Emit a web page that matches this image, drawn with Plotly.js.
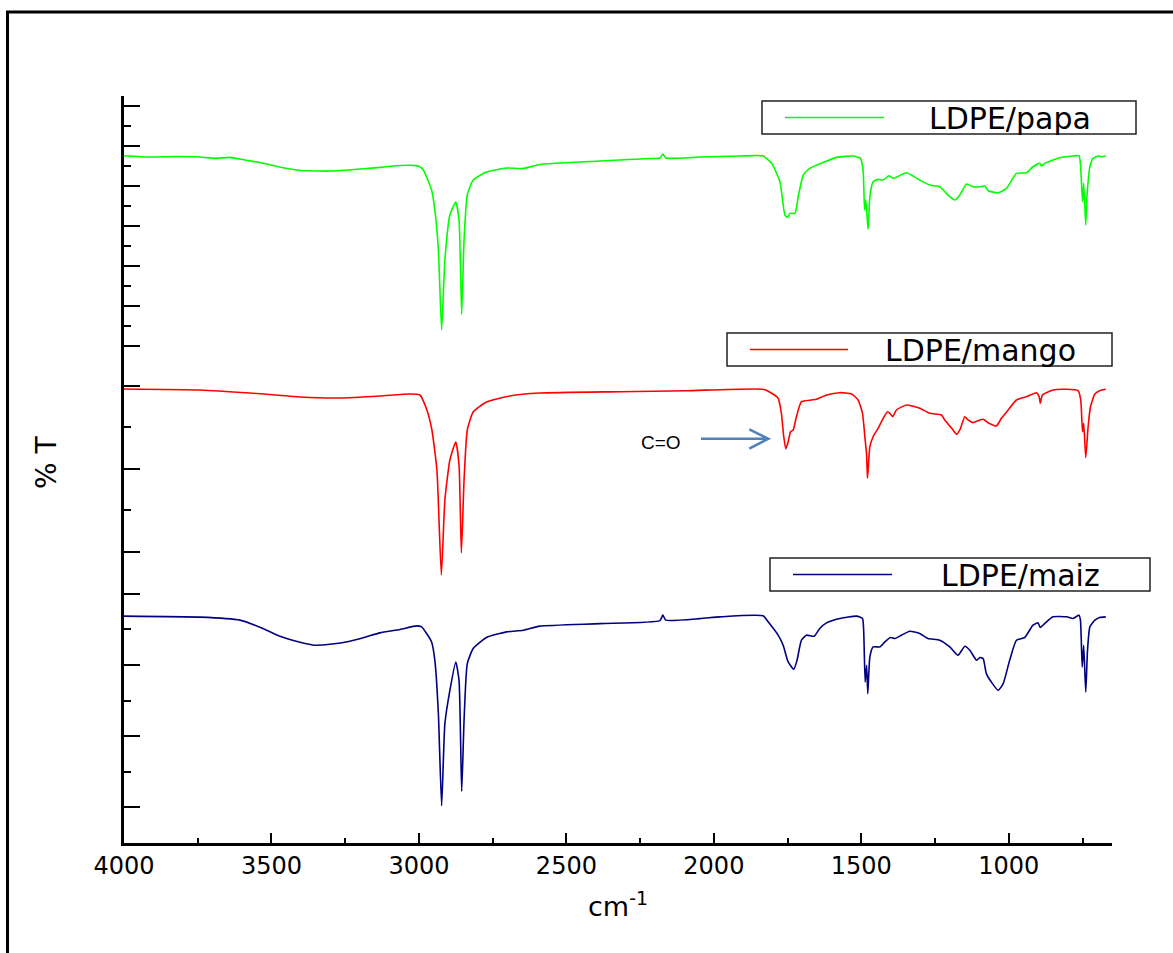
<!DOCTYPE html>
<html>
<head>
<meta charset="utf-8">
<script src="https://cdn.plot.ly/plotly-3.0.1.min.js"></script>
<style>body{margin:0;background:#fff}</style>
</head>
<body>
<div id="chart" style="width:1173px;height:953px"></div>
<script>
// ---------- data ----------
const seriesNames = ['LDPE/papa', 'LDPE/mango', 'LDPE/maiz'];
const seriesColors = ['#00ff00', '#ff0000', '#000080'];

const papaWn = [4000,3912,3827,3742,3692,3641,3590,3539,3488,3437,3403,3292,3176,3064,3020,2997,2985,2957,2946,2934,2923,2912,2895,2875,2864,2855,2847,2836,2816,2771,2703,2647,2590,2386,2217,2183,2173,2163,2047,1912,1833,1804,1776,1759,1750,1742,1725,1714,1697,1675,1629,1584,1528,1503,1494,1489,1485,1482,1477,1471,1460,1443,1426,1406,1392,1347,1302,1268,1234,1206,1183,1166,1143,1121,1098,1081,1070,1036,1008,974,940,918,895,889,878,850,827,782,762,757,750,746,739,735,725,714,697,686,671];
const papaT = [87.5,87.18,87.3,87.18,86.85,87.1,86.43,85.8,84.93,84.18,83.8,83.68,84.3,85.05,85.1,84.75,83.93,78.93,73.93,63.93,43.93,61.43,72.68,75.93,71.43,47.93,66.43,77.68,81.43,83.43,84.43,84.3,85.3,86.18,86.8,86.93,87.93,86.93,87.18,87.43,87.43,85.6,81.0,72.68,72.1,73.1,73.1,77.25,82.68,84.35,85.85,87.1,87.43,86.85,83.93,73.93,76.43,73.93,69.1,77.25,81.0,81.6,81.43,82.5,81.85,83.25,81.43,80.18,79.75,77.68,76.43,77.68,80.43,79.75,79.75,79.93,78.75,78.25,79.35,83.1,83.25,84.75,85.6,84.93,85.6,86.43,87.0,87.43,87.5,85.6,76.0,80.6,70.18,77.25,84.75,86.85,87.43,87.25,87.43];

const mangoWn = [4000,3742,3573,3403,3268,3132,3030,2997,2973,2956,2939,2924,2912,2895,2875,2864,2856,2847,2836,2816,2771,2692,2590,2319,2093,1833,1804,1782,1771,1763,1756,1748,1740,1731,1720,1703,1669,1652,1618,1573,1533,1511,1496,1488,1482,1479,1471,1460,1443,1426,1411,1403,1394,1381,1347,1302,1268,1228,1217,1189,1177,1166,1149,1138,1121,1104,1087,1070,1042,1025,1002,974,940,906,897,893,886,850,804,765,756,750,746,739,731,723,708,692,671];
const mangoT = [79.28,79.04,78.31,77.35,77.11,77.59,78.07,77.83,74.22,69.40,59.76,34.46,52.53,62.17,66.51,60.96,39.76,57.35,69.40,73.73,76.14,77.59,78.31,78.63,78.87,79.20,78.24,77.04,73.42,67.78,64.82,66.58,68.99,69.40,72.60,76.22,76.63,76.80,77.83,78.39,78.07,76.63,73.42,67.78,63.37,57.76,65.37,67.78,69.81,72.22,73.81,73.42,72.60,74.22,75.42,74.63,73.42,73.01,71.81,69.40,68.36,69.40,72.60,71.81,71.16,71.64,71.98,71.16,70.36,72.22,74.22,76.63,77.42,78.39,77.42,75.83,77.83,79.04,79.20,78.87,76.63,68.99,71.01,62.72,70.19,75.01,78.07,78.87,79.20];

const maizWn = [4000,3742,3607,3539,3471,3403,3353,3302,3234,3183,3132,3064,3008,2991,2974,2957,2946,2934,2923,2912,2895,2875,2864,2855,2847,2836,2816,2771,2703,2646,2590,2386,2183,2173,2163,2047,1980,1833,1816,1782,1765,1748,1729,1718,1703,1686,1660,1641,1618,1573,1516,1496,1492,1487,1482,1478,1471,1460,1437,1420,1401,1386,1364,1336,1302,1274,1234,1200,1172,1149,1132,1109,1098,1087,1076,1059,1036,1019,997,974,946,918,901,893,878,850,804,782,762,757,751,746,739,733,725,708,692,671];
const maizT = [73.72,73.44,72.59,70.62,68.08,66.39,65.55,65.83,66.68,67.80,69.01,69.97,70.99,70.70,68.85,66.48,61.32,46.31,20.48,43.49,52.87,60.85,55.69,24.51,44.42,60.39,64.62,67.72,69.30,69.77,70.90,71.61,72.45,74.00,72.59,73.01,73.52,73.80,72.11,68.37,65.55,60.85,58.79,61.32,66.96,68.37,68.08,70.25,71.83,73.07,73.72,73.07,69.77,55.21,59.92,51.94,62.25,65.07,65.07,66.48,67.72,67.44,68.37,69.49,68.85,67.44,66.96,65.07,62.73,65.27,64.14,61.32,62.08,61.80,57.58,55.21,52.87,54.76,61.32,66.96,67.72,71.18,71.83,70.54,71.66,73.52,73.52,73.07,74.00,72.59,59.44,65.55,52.39,64.14,70.70,72.59,73.35,73.52];

const xTickVals = [4000, 3500, 3000, 2500, 2000, 1500, 1000];
const annotationText = 'C=O';
const yTitle = '% T';
const xTitle = 'cm<sup>-1</sup>';

// ---------- layout helpers (pixel -> paper) ----------
const ML = 124, MR = 61, MT = 96, MB = 110, FW = 1173, FH = 953;
const PW = FW - ML - MR, PH = FH - MT - MB;
const PX = x => (x - ML) / PW;
const PY = y => (FH - MB - y) / PH;

const xs = [papaWn, mangoWn, maizWn];
const ys = [papaT, mangoT, maizT];
const yaxisIds = ['y', 'y2', 'y3'];

const traces = seriesNames.map((name, i) => ({
  type: 'scatter', mode: 'lines', name: name,
  x: xs[i], y: ys[i], xaxis: 'x', yaxis: yaxisIds[i],
  line: {color: seriesColors[i], width: 1.6, shape: 'spline', smoothing: 0.5},
  showlegend: false, hoverinfo: 'x+y+name'
}));

const yBase = {
  showline: true, linecolor: 'black', linewidth: 3,
  ticks: 'inside', ticklen: 16, tickwidth: 2, tickcolor: 'black',
  showticklabels: false, showgrid: false, zeroline: false,
  tickmode: 'linear', tick0: 0, anchor: 'x', fixedrange: true
};

const legendGeom = [
  {x0: 762, x1: 1136, y0: 101, y1: 134, lx0: 785, lx1: 884, tx: 898},
  {x0: 727, x1: 1112, y0: 333, y1: 366, lx0: 750, lx1: 848, tx: 862},
  {x0: 770, x1: 1150, y0: 558, y1: 591, lx0: 793, lx1: 892, tx: 905}
];

const shapes = [];
const annotations = [];
legendGeom.forEach((g, i) => {
  shapes.push({type: 'rect', xref: 'paper', yref: 'paper',
    x0: PX(g.x0), x1: PX(g.x1), y0: PY(g.y1), y1: PY(g.y0),
    line: {color: '#222', width: 1.5}, fillcolor: 'white', layer: 'above'});
  const ym = (g.y0 + g.y1) / 2;
  shapes.push({type: 'line', xref: 'paper', yref: 'paper',
    x0: PX(g.lx0), x1: PX(g.lx1), y0: PY(ym), y1: PY(ym),
    line: {color: seriesColors[i], width: 1.5}, layer: 'above'});
  annotations.push({xref: 'paper', yref: 'paper', x: PX((g.tx + g.x1 - 14) / 2), y: PY(ym + 1),
    xanchor: 'center', yanchor: 'middle', showarrow: false, text: seriesNames[i],
    font: {family: 'DejaVu Sans', size: 30, color: 'black'}});
});

// outer frame (left & top edges)
shapes.push({type: 'path', xref: 'paper', yref: 'paper',
  path: `M ${PX(7.5)},${PY(970)} L ${PX(7.5)},${PY(12)} L ${PX(1190)},${PY(12)}`,
  line: {color: 'black', width: 3}});

// C=O arrow
shapes.push({type: 'path', xref: 'paper', yref: 'paper',
  path: `M ${PX(701)},${PY(438.7)} L ${PX(767)},${PY(438.7)} M ${PX(749.3)},${PY(429.3)} L ${PX(768.3)},${PY(438.7)} L ${PX(749.3)},${PY(448.7)}`,
  line: {color: '#4f81bd', width: 2.5}});

annotations.push({xref: 'paper', yref: 'paper', x: PX(660.5), y: PY(442.5),
  xanchor: 'center', yanchor: 'middle', showarrow: false, text: annotationText,
  font: {family: 'Liberation Sans', size: 19, color: 'black'}});

annotations.push({xref: 'paper', yref: 'paper', x: PX(46), y: PY(462),
  xanchor: 'center', yanchor: 'middle', showarrow: false, text: yTitle, textangle: -90,
  font: {family: 'DejaVu Sans', size: 28, color: 'black'}});

const layout = {
  width: FW, height: FH,
  margin: {l: ML, r: MR, t: MT, b: MB},
  paper_bgcolor: 'white', plot_bgcolor: 'white',
  showlegend: false,
  xaxis: {
    range: [4000, 650], domain: [0, 1], anchor: 'y3',
    showline: true, linecolor: 'black', linewidth: 2.5,
    ticks: 'inside', ticklen: 10, tickwidth: 2, tickcolor: 'black',
    tickmode: 'array', tickvals: xTickVals, ticktext: xTickVals.map(String),
    minor: {dtick: 250, tick0: 0, ticks: 'inside', ticklen: 5, tickwidth: 2, tickcolor: 'black'},
    showgrid: false, zeroline: false,
    tickfont: {family: 'DejaVu Sans', size: 24, color: 'black'},
    title: {text: xTitle, font: {family: 'DejaVu Sans', size: 27, color: 'black'}, standoff: 18},
    fixedrange: true
  },
  yaxis: Object.assign({}, yBase, {domain: [PY(365.7), 1], range: [35.05, 102.425], dtick: 10,
    minor: {dtick: 5, ticks: 'inside', ticklen: 7, tickwidth: 2, tickcolor: 'black'}}),
  yaxis2: Object.assign({}, yBase, {domain: [PY(582), PY(365.7)], range: [32.77, 84.89], dtick: 20,
    minor: {dtick: 10, ticks: 'inside', ticklen: 7, tickwidth: 2, tickcolor: 'black'}}),
  yaxis3: Object.assign({}, yBase, {domain: [0, PY(582)], range: [10.02, 83.3], dtick: 20,
    minor: {dtick: 10, ticks: 'inside', ticklen: 7, tickwidth: 2, tickcolor: 'black'}}),
  shapes: shapes,
  annotations: annotations
};

Plotly.newPlot('chart', traces, layout, {displayModeBar: false, staticPlot: true});
</script>
</body>
</html>
